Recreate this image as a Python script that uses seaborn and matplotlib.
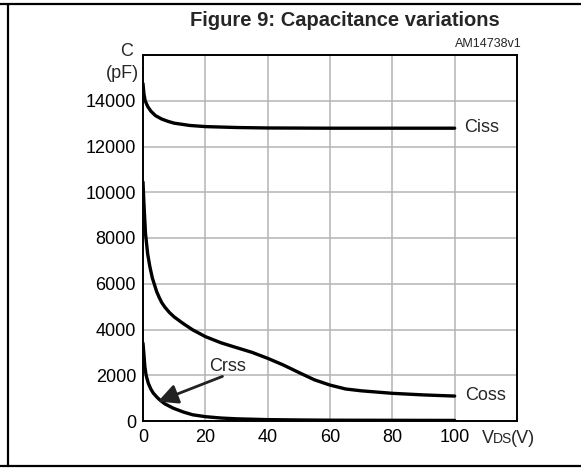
#!/usr/bin/env python3

import numpy as np
import pandas as pd
import matplotlib.pyplot as plt
import seaborn as sns
from matplotlib.lines import Line2D

SET_DPI = 100
FIGSIZE = (5.81, 4.68)

# (VDS in V, C in pF)
CISS_V = [0, 0.3, 0.7, 1.5, 2.5, 4, 6, 8, 10, 15, 20, 30, 40, 60, 80, 100]
CISS_C = [14750, 14300, 14000, 13750, 13550, 13350, 13200, 13100, 13020,
          12920, 12870, 12830, 12810, 12800, 12800, 12800]

COSS_V = [0, 0.3, 0.8, 1.5, 2.2, 3, 4.4, 5.2, 6, 7, 8.5, 10, 12.9, 16, 20,
          25, 29, 35, 40, 45, 50, 55, 60, 65, 70, 80, 90, 100]
COSS_C = [10450, 9500, 8200, 7300, 6750, 6250, 5650, 5400, 5180, 4980, 4740,
          4550, 4260, 3980, 3690, 3420, 3250, 3000, 2740, 2450, 2120, 1800,
          1570, 1400, 1320, 1210, 1140, 1090]

CRSS_V = [0, 0.3, 0.6, 1, 1.7, 2.5, 3.3, 4.4, 5.4, 7, 9.7, 13, 16, 20, 25,
          30, 40, 50, 60, 80, 100]
CRSS_C = [3400, 2900, 2370, 2000, 1650, 1400, 1220, 1050, 920, 750, 560, 390,
          270, 190, 130, 95, 60, 45, 35, 30, 25]

X_TICKS = [0, 20, 40, 60, 80, 100, 120]
X_LABELS = ['0', '20', '40', '60', '80', '100', '']
Y_TICKS = [0, 2000, 4000, 6000, 8000, 10000, 12000, 14000, 16000]
Y_LABELS = ['0', '2000', '4000', '6000', '8000', '10000', '12000', '14000', '']

sns.set_theme(style='white')
plt.rcParams['font.family'] = ['Liberation Sans', 'DejaVu Sans']

curves = pd.concat([
    pd.DataFrame({'vds': CISS_V, 'cap': CISS_C, 'name': 'Ciss'}),
    pd.DataFrame({'vds': COSS_V, 'cap': COSS_C, 'name': 'Coss'}),
    pd.DataFrame({'vds': CRSS_V, 'cap': CRSS_C, 'name': 'Crss'}),
])

fig = plt.figure(figsize=FIGSIZE, dpi=SET_DPI)
W, H = 581, 468
ax = fig.add_axes([143 / W, 1 - 421 / H, (517 - 143) / W, (421 - 55) / H])

for name in ['Ciss', 'Coss', 'Crss']:
    sns.lineplot(data=curves[curves['name'] == name], x='vds', y='cap',
                 color='black', linewidth=2.4, estimator=None, sort=False,
                 ax=ax, zorder=3)

ax.set_xlim(0, 120)
ax.set_ylim(0, 16000)
ax.set_xticks(X_TICKS)
ax.set_xticklabels(X_LABELS)
ax.set_yticks(Y_TICKS)
ax.set_yticklabels(Y_LABELS)
ax.set_xlabel('')
ax.set_ylabel('')
ax.tick_params(axis='both', length=0, labelsize=13, colors='black')
ax.tick_params(axis='y', pad=5)
ax.tick_params(axis='x', pad=6)
ax.grid(True, color='#b4b4b4', linewidth=1.1)
ax.set_axisbelow(True)
for sp in ax.spines.values():
    sp.set_color('black')
    sp.set_linewidth(1.4)
    sp.set_zorder(4)

# curve labels
ax.text(103, 12820, 'Ciss', fontsize=13, va='center', ha='left')
ax.text(103.5, 1100, 'Coss', fontsize=13, va='center', ha='left')
ax.annotate('', xy=(4.8, 850), xytext=(25.5, 1950),
            arrowprops=dict(arrowstyle='-|>,head_length=1.0,head_width=0.5',
                            color='#222222', lw=2.0, shrinkA=0, shrinkB=0))
ax.text(27, 2380, 'Crss', fontsize=13, va='center', ha='center')

# axis labels placed like the datasheet
fig.text(127 / W, 1 - 51 / H, 'C', fontsize=13, ha='center', va='center')
fig.text(139 / W, 1 - 74 / H, '(pF)', fontsize=13, ha='right', va='center')
fig.text(482 / W, 1 - 443 / H, 'V', fontsize=13, ha='left', va='baseline')
fig.text(493 / W, 1 - 443 / H, 'DS', fontsize=10, ha='left', va='baseline')
fig.text(511 / W, 1 - 443 / H, '(V)', fontsize=13, ha='left', va='baseline')

fig.text(345 / W, 1 - 20 / H, 'Figure 9: Capacitance variations',
         fontsize=14.5, fontweight='bold', ha='center', va='center')
fig.text(522 / W, 1 - 44 / H, 'AM14738v1', fontsize=9,
         ha='right', va='center')

# frame around the figure block
fig.add_artist(Line2D([0, 1], [1 - 4 / H, 1 - 4 / H], color='black',
                      linewidth=1.6, transform=fig.transFigure))
fig.add_artist(Line2D([0, 1], [1 - 466 / H, 1 - 466 / H], color='black',
                      linewidth=1.6, transform=fig.transFigure))
fig.add_artist(Line2D([8 / W, 8 / W], [1 - 466 / H, 1 - 4 / H], color='black',
                      linewidth=1.6, transform=fig.transFigure))

fig.savefig('out.png', dpi=SET_DPI)
plt.close('all')
